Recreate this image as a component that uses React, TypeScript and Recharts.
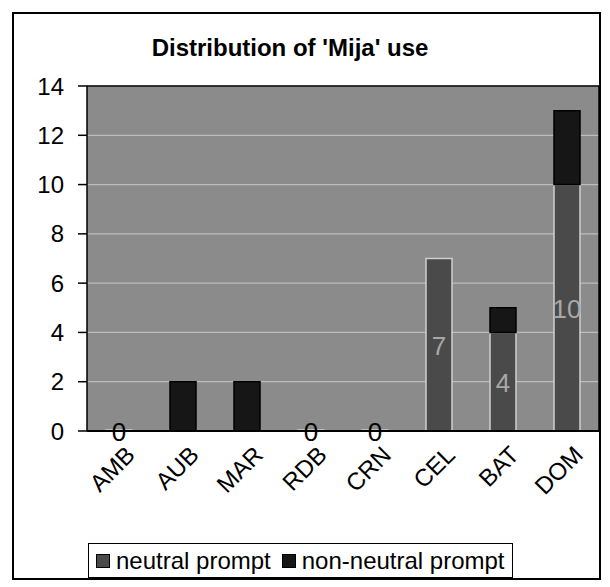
import React from 'react';
import { BarChart, Bar, XAxis, YAxis, CartesianGrid, Legend, LabelList, ReferenceLine } from 'recharts';

const categories = ['AMB', 'AUB', 'MAR', 'RDB', 'CRN', 'CEL', 'BAT', 'DOM'];
const neutralPrompt: (number | null)[] = [0, null, null, 0, 0, 7, 4, 10];
const nonNeutralPrompt: (number | null)[] = [null, 2, 2, null, null, null, 1, 3];
const yTicks = [0, 2, 4, 6, 8, 10, 12, 14];
const boundaryTicks = [0, 1, 2, 3, 4, 5, 6, 7, 8];
const seriesNames = ['neutral prompt', 'non-neutral prompt'];
const titleText = "Distribution of 'Mija' use";

const FONT = "'Liberation Sans', Arial, sans-serif";
const BG = '#8b8b8b';
const NEUTRAL = '#4a4a4a';
const NON_NEUTRAL = '#161616';

const data = categories.map((c, i) => ({
  name: c,
  neutral: neutralPrompt[i],
  nonNeutral: nonNeutralPrompt[i],
}));

const CatTick = (props: any) => {
  const { x, y, payload } = props;
  const ax = x + 5;
  const ay = y + 5;
  return (
    <text
      x={ax}
      y={ay}
      transform={`rotate(-45, ${ax}, ${ay})`}
      textAnchor="end"
      dominantBaseline="hanging"
      fontFamily={FONT}
      fontSize={24}
      fill="#000"
    >
      {payload.value}
    </text>
  );
};

const NeutralLabel = (props: any) => {
  const { x, y, width, height, value } = props;
  if (value === null || value === undefined) return null;
  const cx = x + width / 2;
  const cy = y + height / 2;
  return (
    <text
      x={cx}
      y={cy + 1}
      textAnchor="middle"
      dominantBaseline="central"
      fontFamily={FONT}
      fontSize={26}
      fill={Number(value) === 0 ? '#000' : '#a8a8a8'}
    >
      {value}
    </text>
  );
};

const LegendBox = () => (
  <div
    style={{
      display: 'flex',
      alignItems: 'center',
      border: '1.5px solid #000',
      boxSizing: 'border-box',
      height: 35,
      padding: '0 7px',
      fontFamily: FONT,
      fontSize: 24,
      color: '#000',
      background: '#fff',
      whiteSpace: 'nowrap',
    }}
  >
    <span style={{ display: 'inline-block', width: 12, height: 12, background: NEUTRAL, border: '1px solid #000', marginRight: 6 }} />
    <span style={{ marginRight: 11 }}>{seriesNames[0]}</span>
    <span style={{ display: 'inline-block', width: 12, height: 12, background: NON_NEUTRAL, border: '1px solid #000', marginRight: 6 }} />
    <span>{seriesNames[1]}</span>
  </div>
);

export default function App() {
  return (
    <div style={{ position: 'absolute', left: 0, top: 0, width: 610, height: 587, background: '#fff' }}>
      <div
        style={{
          position: 'absolute',
          left: 12,
          top: 12,
          width: 589,
          height: 568,
          border: '2px solid #000',
          boxSizing: 'border-box',
        }}
      />
      <div
        style={{
          position: 'absolute',
          left: 0,
          top: 34,
          width: 580,
          textAlign: 'center',
          fontFamily: FONT,
          fontWeight: 'bold',
          fontSize: 24,
          color: '#000',
        }}
      >
        {titleText}
      </div>
      <BarChart
        width={610}
        height={587}
        data={data}
        margin={{ top: 86, right: 10, left: 0, bottom: 9 }}
        barSize={26}
        style={{ position: 'absolute', left: 0, top: 0 }}
      >
        <CartesianGrid
          xAxisId="cat"
          yAxisId="left"
          vertical={false}
          fill={BG}
          fillOpacity={1}
          stroke="#bdbdbd"
          strokeWidth={1.2}
        />
        <XAxis
          xAxisId="ticks"
          type="number"
          domain={[0, 8]}
          ticks={boundaryTicks}
          height={1}
          tick={false}
          tickSize={8}
          tickLine={{ stroke: '#000', strokeWidth: 1.5 }}
          axisLine={false}
          allowDataOverflow
        />
        <XAxis
          xAxisId="cat"
          dataKey="name"
          height={111}
          interval={0}
          tick={<CatTick />}
          tickLine={false}
          axisLine={{ stroke: '#000', strokeWidth: 2 }}
        />
        <YAxis
          yAxisId="left"
          domain={[0, 14]}
          ticks={yTicks}
          width={87}
          tickSize={9}
          tickMargin={14}
          tick={{ fontSize: 24, fill: '#000', fontFamily: FONT }}
          tickLine={{ stroke: '#000', strokeWidth: 1.5 }}
          axisLine={{ stroke: '#000', strokeWidth: 1.5 }}
        />
        <YAxis
          yAxisId="right"
          orientation="right"
          domain={[0, 14]}
          width={1}
          tick={false}
          tickLine={false}
          axisLine={{ stroke: '#000', strokeWidth: 1.5 }}
        />
        <ReferenceLine xAxisId="cat" yAxisId="left" y={14} stroke="#000" strokeWidth={1.5} />
        <Legend
          verticalAlign="bottom"
          content={<LegendBox />}
          wrapperStyle={{ left: 88, width: 'auto', bottom: 9 }}
        />
        <Bar
          xAxisId="cat"
          yAxisId="left"
          dataKey="neutral"
          name={seriesNames[0]}
          stackId="s"
          fill={NEUTRAL}
          stroke="#cfcfcf"
          strokeWidth={1.5}
          minPointSize={1}
          isAnimationActive={false}
        >
          <LabelList dataKey="neutral" content={<NeutralLabel />} />
        </Bar>
        <Bar
          xAxisId="cat"
          yAxisId="left"
          dataKey="nonNeutral"
          name={seriesNames[1]}
          stackId="s"
          fill={NON_NEUTRAL}
          stroke="#000"
          strokeWidth={1.5}
          isAnimationActive={false}
        />
      </BarChart>
    </div>
  );
}
